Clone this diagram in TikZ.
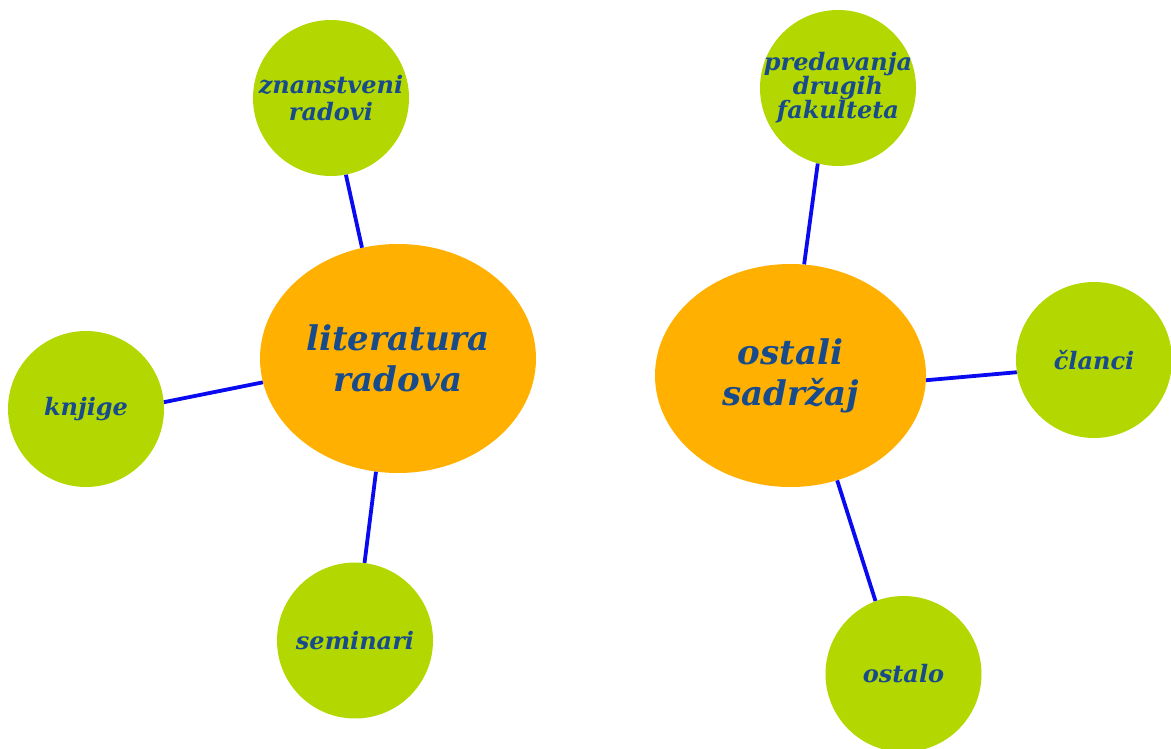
\documentclass[tikz,border=0pt]{standalone}
\usepackage{fontspec}
\setmainfont{DejaVu Serif}
\usetikzlibrary{shapes.geometric}
\definecolor{hubfill}{HTML}{FFB000}
\definecolor{leaffill}{HTML}{B3D700}
\definecolor{labelblue}{HTML}{174B8B}
\definecolor{linkblue}{HTML}{0A0AF0}
\begin{document}
\begin{tikzpicture}[x=1pt,y=-1pt,
  hub/.style={ellipse, fill=hubfill, inner sep=0pt, align=center,
    text=labelblue, font=\fontsize{34}{41}\selectfont\bfseries\itshape},
  leaf/.style={circle, fill=leaffill, minimum size=156pt, inner sep=0pt,
    align=center, text=labelblue},
  smalltext/.style={font=\fontsize{24}{27}\selectfont\bfseries\itshape},
  link/.style={draw=linkblue, line width=3.8pt}]
\useasboundingbox (0,0) rectangle (1171,749);

% central topics
\node[hub, minimum width=276pt, minimum height=229pt] (lit) at (398,358.5) {literatura\\radova};
\node[hub, minimum width=271pt, minimum height=223pt] (ost) at (790.5,375.5) {ostali\\sadržaj};

% subtopics of the first hub
\node[leaf, smalltext] (zr) at (331,98) {znanstveni\\radovi};
\node[leaf, smalltext] (kn) at (86,409) {knjige};
\node[leaf, smalltext] (se) at (355,640.5) {seminari};

% subtopics of the second hub (three-line label overflows the disc slightly)
\node[leaf, inner sep=-15pt, font=\fontsize{24}{24}\selectfont\bfseries\itshape] (pf) at (838,88) {predavanja\\drugih\\fakulteta};
\node[leaf, smalltext] (cl) at (1094,360) {članci};
\node[leaf, smalltext] (ol) at (903.5,674) {ostalo};

% connectors
\draw[link] (zr.281.9) -- (lit.108);
\draw[link] (kn.5.2) -- (lit.190.7);
\draw[link] (se.83.3) -- (lit.259.6);
\draw[link] (pf.255.1) -- (ost.83.5);
\draw[link] (cl.189.2) -- (ost.358.9);
\draw[link] (ol.111.1) -- (ost.294.9);
\end{tikzpicture}
\end{document}
